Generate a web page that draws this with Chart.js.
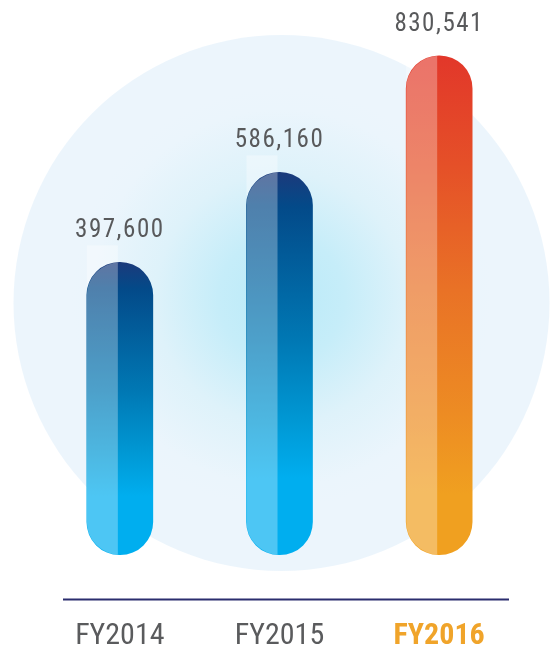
<!DOCTYPE html>
<html><head><meta charset="utf-8">
<script src="https://cdn.jsdelivr.net/npm/chart.js@4.4.1/dist/chart.umd.min.js"></script>
<style>html,body{margin:0;padding:0;background:#fff;} #wrap{width:550px;height:651px;position:relative;}</style>
</head><body><div id="wrap"><canvas id="c"></canvas></div>
<script>
const categories = ['FY2014', 'FY2015', 'FY2016'];
const values = [397600, 586160, 830541];
const highlightIndex = 2;

const NARROW = "'Liberation Sans Narrow', 'Arial Narrow', 'Roboto Condensed', 'DejaVu Sans Condensed', sans-serif";
const BASE_VALUE = -215000;
const Y_MIN = -309800, Y_MAX = 947300;

const blueStops = [[0,'#1b3a7b'],[0.09,'#034a89'],[0.44,'#0078b4'],[0.65,'#0098d4'],[0.8,'#00aeef'],[1,'#00aeef']];
const orangeStops = [[0,'#e2372a'],[0.22,'#e55028'],[0.47,'#e97226'],[0.72,'#ed8c23'],[0.88,'#f0a020'],[1,'#f0a020']];

function barGradient(c) {
  const chart = c.chart, y = chart.scales.y;
  if (!chart.chartArea || !y || c.dataIndex === undefined) return '#00aeef';
  const i = c.dataIndex;
  const top = y.getPixelForValue(values[i]);
  const bot = y.getPixelForValue(BASE_VALUE);
  const g = chart.ctx.createLinearGradient(0, top, 0, bot);
  (i === highlightIndex ? orangeStops : blueStops).forEach(s => g.addColorStop(s[0], s[1]));
  return g;
}

const decor = {
  id: 'decor',
  beforeDatasetsDraw(chart) {
    const {ctx, chartArea} = chart;
    const cx = (chartArea.left + chartArea.right) / 2 + 2;
    const cy = 303, r = 268;
    ctx.save();
    const g = ctx.createRadialGradient(cx, 298, 0, cx, 298, 210);
    g.addColorStop(0, '#b9eaf8');
    g.addColorStop(0.3, '#c6edf9');
    g.addColorStop(0.6, '#def2fa');
    g.addColorStop(0.9, '#ebf5fc');
    g.addColorStop(1, '#ecf5fc');
    ctx.fillStyle = g;
    ctx.beginPath(); ctx.arc(cx, cy, r, 0, Math.PI * 2); ctx.fill();
    chart.getDatasetMeta(0).data.forEach(el => {
      const left = el.x - el.width / 2;
      ctx.fillStyle = 'rgba(255,255,255,0.35)';
      ctx.fillRect(left, el.y - 17, el.width * 0.47, 40);
    });
    ctx.restore();
  },
  afterDatasetsDraw(chart) {
    const {ctx, chartArea} = chart;
    ctx.save();
    chart.getDatasetMeta(0).data.forEach((el, i) => {
      const left = el.x - el.width / 2;
      const h = el.base - el.y;
      ctx.save();
      ctx.beginPath();
      ctx.roundRect(left, el.y, el.width, h, el.width / 2);
      ctx.clip();
      ctx.fillStyle = 'rgba(255,255,255,0.3)';
      ctx.fillRect(left, el.y, el.width * 0.47, h);
      ctx.restore();
      ctx.fillStyle = '#58595b';
      ctx.font = "25px " + NARROW;
      try { ctx.letterSpacing = '1.5px'; } catch (e) {}
      ctx.textAlign = 'center';
      ctx.textBaseline = 'alphabetic';
      ctx.fillText(values[i].toLocaleString('en-US'), el.x, el.y - 25);
    });
    try { ctx.letterSpacing = '0px'; } catch (e) {}
    ctx.strokeStyle = '#2b2d6e';
    ctx.lineWidth = 2;
    ctx.beginPath();
    ctx.moveTo(chartArea.left + 23, chartArea.bottom - 0.5);
    ctx.lineTo(chartArea.right - 10, chartArea.bottom - 0.5);
    ctx.stroke();
    ctx.restore();
  }
};

new Chart(document.getElementById('c'), {
  type: 'bar',
  data: {
    labels: categories,
    datasets: [{
      data: values,
      base: BASE_VALUE,
      backgroundColor: barGradient,
      borderWidth: 0,
      borderRadius: 40,
      borderSkipped: false,
      barThickness: 66
    }]
  },
  options: {
    responsive: true,
    maintainAspectRatio: false,
    animation: false,
    events: [],
    layout: { padding: { left: 40, right: 31, top: 0, bottom: -22 } },
    plugins: { legend: { display: false }, tooltip: { enabled: false } },
    scales: {
      x: {
        grid: { display: false, drawTicks: false },
        border: { display: false },
        ticks: {
          padding: 18.5,
          color: c => c.index === highlightIndex ? '#f0a42a' : '#5a5b5d',
          font: c => ({ family: NARROW, size: 30, weight: c.index === highlightIndex ? 'bold' : 'normal' })
        }
      },
      y: { display: false, min: Y_MIN, max: Y_MAX }
    }
  },
  plugins: [decor]
});
</script>
</body></html>
